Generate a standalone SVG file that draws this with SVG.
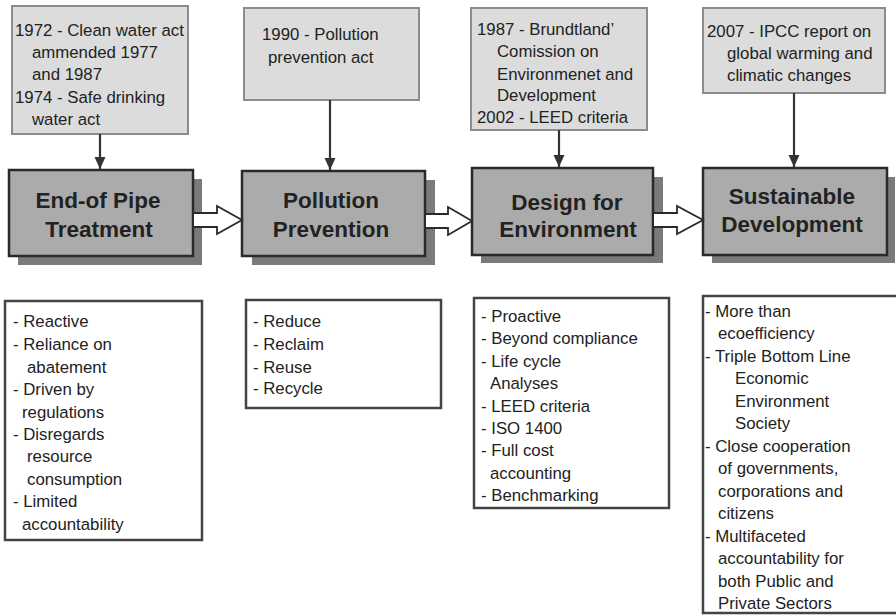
<svg xmlns="http://www.w3.org/2000/svg" width="896" height="615" viewBox="0 0 896 615">
<defs>
<style>
.top{fill:#dcdcdc;stroke:#8c8c8c;stroke-width:2}
.main{fill:#ababab;stroke:#2a2a2a;stroke-width:2.5}
.shadow{fill:#7a7a7a}
.list{fill:#ffffff;stroke:#444;stroke-width:2.5}
.t{font-family:"Liberation Sans",Arial,sans-serif;font-size:16.8px;fill:#222}
.b{font-family:"Liberation Sans",Arial,sans-serif;font-size:22.5px;font-weight:bold;fill:#222;text-anchor:middle}
.down{stroke:#333;stroke-width:2.2;fill:none}
.hollow{fill:#fff;stroke:#2a2a2a;stroke-width:1.8;stroke-linejoin:miter}
</style>
<marker id="ah" markerUnits="userSpaceOnUse" markerWidth="14" markerHeight="14" viewBox="0 0 14 14" refX="12" refY="7" orient="auto">
<path d="M0,1.5 L12,7 L0,12.5 Z" fill="#333"/>
</marker>
</defs>

<g id="top1">
<rect class="top" x="12" y="6" width="176" height="128"/>
<text class="t"><tspan x="15" y="36">1972 - Clean water act</tspan><tspan x="32" y="58">ammended 1977</tspan><tspan x="32" y="80">and 1987</tspan><tspan x="15" y="103">1974 - Safe drinking</tspan><tspan x="32" y="125">water act</tspan></text>
</g>
<g id="top2">
<rect class="top" x="244" y="8" width="175" height="92"/>
<text class="t"><tspan x="262" y="40">1990 - Pollution</tspan><tspan x="268" y="63">prevention act</tspan></text>
</g>
<g id="top3">
<rect class="top" x="471" y="8" width="176" height="122"/>
<text class="t"><tspan x="477" y="35">1987 - Brundtland’</tspan><tspan x="497" y="57">Comission on</tspan><tspan x="497" y="80">Environmenet and</tspan><tspan x="497" y="101">Development</tspan><tspan x="477" y="123">2002 - LEED criteria</tspan></text>
</g>
<g id="top4">
<rect class="top" x="703" y="8" width="182" height="85"/>
<text class="t"><tspan x="707" y="37">2007 - IPCC report on</tspan><tspan x="727" y="59">global warming and</tspan><tspan x="727" y="81">climatic changes</tspan></text>
</g>

<g id="main1">
<rect class="shadow" x="18" y="179" width="184" height="86"/>
<rect class="main" x="9" y="170" width="184" height="86"/>
<text class="b"><tspan x="98" y="208">End-of Pipe</tspan><tspan x="99" y="237">Treatment</tspan></text>
</g>
<g id="main2">
<rect class="shadow" x="252" y="180" width="183" height="85"/>
<rect class="main" x="242" y="171" width="183" height="85"/>
<text class="b"><tspan x="331" y="208">Pollution</tspan><tspan x="331" y="237">Prevention</tspan></text>
</g>
<g id="main3">
<rect class="shadow" x="481" y="177" width="182" height="86"/>
<rect class="main" x="472" y="168" width="181" height="87"/>
<text class="b"><tspan x="567" y="210">Design for</tspan><tspan x="568" y="237">Environment</tspan></text>
</g>
<g id="main4">
<rect class="shadow" x="712" y="177" width="183" height="86"/>
<rect class="main" x="703" y="168" width="184" height="87"/>
<text class="b"><tspan x="792" y="204">Sustainable</tspan><tspan x="792" y="232">Development</tspan></text>
</g>

<g id="list1">
<rect class="list" x="5" y="301" width="197" height="239"/>
<text class="t"><tspan x="13" y="327">- Reactive</tspan><tspan x="13" y="350">- Reliance on</tspan><tspan x="27" y="373">abatement</tspan><tspan x="13" y="395">- Driven by</tspan><tspan x="22" y="418">regulations</tspan><tspan x="13" y="440">- Disregards</tspan><tspan x="27" y="462">resource</tspan><tspan x="27" y="485">consumption</tspan><tspan x="13" y="507">- Limited</tspan><tspan x="22" y="530">accountability</tspan></text>
</g>
<g id="list2">
<rect class="list" x="246" y="300" width="195" height="108"/>
<text class="t"><tspan x="253" y="327">- Reduce</tspan><tspan x="253" y="350">- Reclaim</tspan><tspan x="253" y="373">- Reuse</tspan><tspan x="253" y="394">- Recycle</tspan></text>
</g>
<g id="list3">
<rect class="list" x="474" y="298" width="195" height="210"/>
<text class="t"><tspan x="481" y="322">- Proactive</tspan><tspan x="481" y="344">- Beyond compliance</tspan><tspan x="481" y="367">- Life cycle</tspan><tspan x="490" y="389">Analyses</tspan><tspan x="481" y="412">- LEED criteria</tspan><tspan x="481" y="434">- ISO 1400</tspan><tspan x="481" y="456">- Full cost</tspan><tspan x="490" y="479">accounting</tspan><tspan x="481" y="501">- Benchmarking</tspan></text>
</g>
<g id="list4">
<rect class="list" x="703" y="296" width="198" height="317"/>
<text class="t"><tspan x="705" y="317">- More than</tspan><tspan x="718" y="339">ecoefficiency</tspan><tspan x="705" y="362">- Triple Bottom Line</tspan><tspan x="735" y="384">Economic</tspan><tspan x="735" y="407">Environment</tspan><tspan x="735" y="429">Society</tspan><tspan x="705" y="452">- Close cooperation</tspan><tspan x="718" y="474">of governments,</tspan><tspan x="718" y="497">corporations and</tspan><tspan x="718" y="519">citizens</tspan><tspan x="705" y="542">- Multifaceted</tspan><tspan x="718" y="564">accountability for</tspan><tspan x="718" y="587">both Public and</tspan><tspan x="718" y="609">Private Sectors</tspan></text>
</g>

<g id="connectors">
<line class="down" x1="100" y1="134" x2="100" y2="169" marker-end="url(#ah)"/>
<line class="down" x1="330" y1="100" x2="330" y2="170" marker-end="url(#ah)"/>
<line class="down" x1="559" y1="130" x2="559" y2="167" marker-end="url(#ah)"/>
<line class="down" x1="794" y1="93" x2="794" y2="167" marker-end="url(#ah)"/>
<path class="hollow" d="M194,213 H217 V206 L242,220 L217,234 V227 H194"/>
<path class="hollow" d="M426,214 H448 V207 L472,221 L448,235 V228 H426"/>
<path class="hollow" d="M654,213 H677 V206 L703,220 L677,234 V227 H654"/>
</g>
</svg>
